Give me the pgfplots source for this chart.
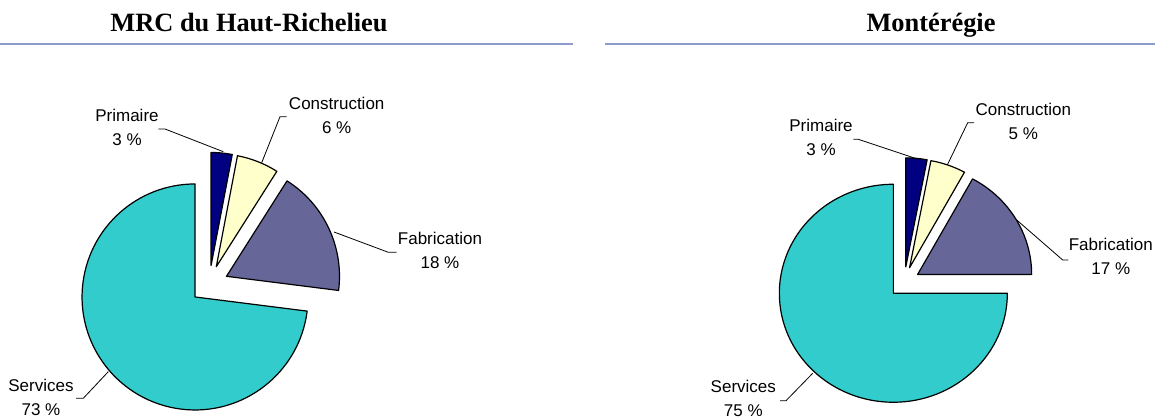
\documentclass[border=0pt]{standalone}
\usepackage{fontspec}
\setmainfont{Liberation Sans}
\newfontfamily\titlefont{Liberation Serif}
\usepackage{pgfplots}
\usepackage{pgfplotstable}
\pgfplotsset{compat=1.18}
\definecolor{cPrim}{HTML}{000080}
\definecolor{cCons}{HTML}{FFFFCC}
\definecolor{cFab}{HTML}{666699}
\definecolor{cServ}{HTML}{33CCCC}
\definecolor{cRule}{HTML}{8C9CCC}
\tikzset{lbl/.style={font=\fontsize{8.5}{12}\selectfont,align=center,inner sep=0pt},
  ttl/.style={font=\titlefont\bfseries\fontsize{13.2}{15}\selectfont,anchor=base,inner sep=0pt}}

% MRC du Haut-Richelieu
\pgfplotstableread{
sector value color
Primaire 3 cPrim
Construction 6 cCons
Fabrication 18 cFab
Services 73 cServ
}\tblHR
% Monteregie
\pgfplotstableread{
sector value color
Primaire 3 cPrim
Construction 5 cCons
Fabrication 17 cFab
Services 75 cServ
}\tblMO

\newcommand\pieslice[7]{% #1 table, #2 row, #3 cx, #4 cy, #5 explode, #6 xr, #7 yr
  \pgfplotstablegetelem{#2}{value}\of#1\let\psV\pgfplotsretval
  \pgfplotstablegetelem{#2}{color}\of#1\let\psC\pgfplotsretval
  \pgfmathsetmacro\psA{\cumangle}%
  \pgfmathsetmacro\psE{\cumangle-\psV*3.6}%
  \xdef\cumangle{\psE}%
  \pgfmathsetmacro\psM{(\psA+\psE)/2}%
  \pgfmathsetmacro\psX{#3+#5*cos(\psM)}%
  \pgfmathsetmacro\psY{#4+#5*sin(\psM)}%
  \pgfmathsetmacro\psXR{#6*0.5}%
  \pgfmathsetmacro\psYR{#7*0.5}%
  \edef\pstmp{\noexpand\filldraw[fill=\psC,draw=black,line width=0.6pt,line join=round]
    (axis cs:\psX,\psY) -- ++(\psA:\psXR pt and \psYR pt)
    arc[start angle=\psA,end angle=\psE,x radius=\psXR pt,y radius=\psYR pt] -- cycle;}%
  \pstmp}

\begin{document}
\begin{tikzpicture}
\begin{axis}[x=0.5pt,y=0.5pt,xmin=0,xmax=1155,ymin=0,ymax=417,
  hide axis,clip=false]
% titles and rules
\node[ttl] at (axis cs:249,385) {MRC du Haut-Richelieu};
\node[ttl] at (axis cs:931,385) {Montérégie};
\draw[cRule,line width=1pt] (axis cs:0,372.5) -- (axis cs:573,372.5);
\draw[cRule,line width=1pt] (axis cs:605,372.5) -- (axis cs:1155,372.5);
% left pie
\gdef\cumangle{90}
\pieslice{\tblHR}{0}{209.3}{132.6}{19}{113}{113}
\pieslice{\tblHR}{1}{209.3}{132.6}{19}{113}{113}
\pieslice{\tblHR}{2}{209.3}{132.6}{19}{113}{113}
\pieslice{\tblHR}{3}{209.3}{132.6}{19}{113}{113}
% right pie
\gdef\cumangle{90}
\pieslice{\tblMO}{0}{904.3}{134.7}{15.5}{114}{109}
\pieslice{\tblMO}{1}{904.3}{134.7}{15.5}{114}{109}
\pieslice{\tblMO}{2}{904.3}{134.7}{15.5}{114}{109}
\pieslice{\tblMO}{3}{904.3}{134.7}{15.5}{114}{109}
% leader lines
\draw[line width=0.4pt] (axis cs:158.3,288) -- (axis cs:165,288) -- (axis cs:223.3,265.3);
\draw[line width=0.4pt] (axis cs:286.7,300.3) -- (axis cs:280,300.3) -- (axis cs:261.7,254.3);
\draw[line width=0.4pt] (axis cs:396.7,164.7) -- (axis cs:388.3,164.7) -- (axis cs:334,185);
\draw[line width=0.4pt] (axis cs:76,18.7) -- (axis cs:83.3,18.7) -- (axis cs:108.3,45.3);
\draw[line width=0.4pt] (axis cs:853.3,277.7) -- (axis cs:858.3,277.7) -- (axis cs:918.3,257.7);
\draw[line width=0.4pt] (axis cs:974,294.3) -- (axis cs:967.7,294.3) -- (axis cs:947.3,252);
\draw[line width=0.4pt] (axis cs:1068.3,157) -- (axis cs:1062.7,157) -- (axis cs:1016.7,197);
\draw[line width=0.4pt] (axis cs:780,16.3) -- (axis cs:786,16.3) -- (axis cs:812.7,43.7);
% labels
\node[lbl] at (axis cs:127,290) {Primaire\\3 \%};
\node[lbl] at (axis cs:336.7,301.7) {Construction\\6 \%};
\node[lbl] at (axis cs:440,166.2) {Fabrication\\18 \%};
\node[lbl] at (axis cs:41,20) {Services\\73 \%};
\node[lbl] at (axis cs:821,280) {Primaire\\3 \%};
\node[lbl] at (axis cs:1023.3,296) {Construction\\5 \%};
\node[lbl] at (axis cs:1110.8,160.3) {Fabrication\\17 \%};
\node[lbl] at (axis cs:743.3,18.7) {Services\\75 \%};
\end{axis}
\pgfresetboundingbox
\path (current axis.south west) rectangle (current axis.north east);
\end{tikzpicture}
\end{document}
